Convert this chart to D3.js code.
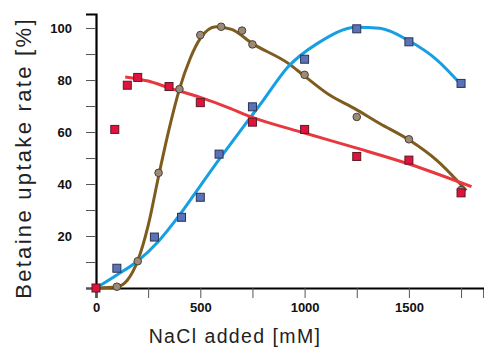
<!DOCTYPE html>
<html>
<head>
<meta charset="utf-8">
<script src="https://cdn.jsdelivr.net/npm/d3@7"></script>
<style>
  body { margin: 0; background: #fff; }
  svg { display: block; }
</style>
</head>
<body>
<div id="chart"></div>
<script>
// Measured points (NaCl mM, uptake %)
const brownPoints = [[100, 0.5], [200, 10.3], [300, 44.3], [400, 76.5], [500, 97.3], [600, 100.5],
    [700, 99], [750, 93.7], [1000, 82], [1250, 65.8], [1500, 57.2], [1750, 37.7]];
const bluePoints = [[100, 7.6], [280, 19.6], [410, 27.2], [500, 34.9], [590, 51.5], [750, 69.7],
    [1000, 88], [1250, 99.7], [1500, 94.7], [1750, 78.7]];
const redPoints = [[0, 0], [90, 61], [150, 78], [200, 81], [350, 77.5], [500, 71.3], [750, 63.8],
    [1000, 61], [1250, 50.6], [1500, 49.2], [1750, 36.6]];

// Fitted curves
const brownFit = [[0, 0], [100, 0.5], [150, 3], [200, 10.5], [250, 24], [300, 43], [350, 61], [400, 76.5],
    [450, 88], [500, 96], [575, 100.5], [650, 99.5], [750, 94], [920, 86.5], [1000, 81.5], [1120, 74.2],
    [1240, 69], [1360, 63.3], [1500, 57], [1635, 49], [1775, 37.5]];
const blueFit = [[0, 0], [100, 5], [200, 10.4], [300, 18], [400, 28], [500, 39.3], [600, 50.5],
    [700, 61.3], [800, 72], [920, 85], [1060, 94], [1250, 100.3], [1360, 99.9], [1500, 95.1],
    [1635, 87.7], [1745, 78.7]];
const redFit = [[140, 81.2], [250, 79.6], [350, 77], [500, 73.3], [640, 69.2], [740, 65.9],
    [1000, 59.6], [1250, 53.8], [1500, 47.7], [1800, 39]];

const xMajor = [0, 500, 1000, 1500];
const xMinor = [250, 750, 1250, 1750];
const yMajor = [20, 40, 60, 80, 100];
const yMinor = [0, 10, 30, 50, 70, 90];

const width = 484;
const height = 347;

const svg = d3.select('#chart').append('svg')
    .attr('width', width)
    .attr('height', height);

const x = d3.scaleLinear().domain([0, 1860]).range([96, 484]);
const y = d3.scaleLinear().domain([0, 105.4]).range([288, 14]);

// Axes
const xAxis = svg.append('g')
    .attr('transform', `translate(0, ${y(0)})`)
    .call(d3.axisBottom(x).tickValues(xMajor.concat(xMinor)).tickSize(10).tickPadding(5)
        .tickFormat(d => xMajor.includes(d) ? d : ''));

const yAxis = svg.append('g')
    .attr('transform', `translate(${x(0)}, 0)`)
    .call(d3.axisLeft(y).tickValues(yMajor.concat(yMinor)).tickSize(10).tickPadding(14)
        .tickFormat(d => yMajor.includes(d) ? d : ''));

[xAxis, yAxis].forEach(g => {
    g.select('.domain').attr('stroke', '#000').attr('stroke-width', 2.2);
    g.selectAll('.tick line').attr('stroke', '#555').attr('stroke-width', 1);
    g.selectAll('.tick text')
        .style('font-family', 'Liberation Sans, Arial, sans-serif')
        .style('font-size', '13px')
        .style('font-weight', 'bold')
        .attr('fill', '#111');
});

// Axis titles
svg.append('text')
    .attr('x', 235)
    .attr('y', 343)
    .style('text-anchor', 'middle')
    .style('font-family', 'Liberation Sans, Arial, sans-serif')
    .style('font-size', '19.5px')
    .style('letter-spacing', '1.4px')
    .attr('fill', '#222')
    .text('NaCl added [mM]');

svg.append('text')
    .attr('transform', 'rotate(-90)')
    .attr('x', -158)
    .attr('y', 31)
    .style('text-anchor', 'middle')
    .style('font-family', 'Liberation Sans, Arial, sans-serif')
    .style('font-size', '22px')
    .style('letter-spacing', '2.3px')
    .attr('fill', '#222')
    .text('Betaine uptake rate [%]');

// Fitted lines
const line = d3.line()
    .x(d => x(d[0]))
    .y(d => y(d[1]))
    .curve(d3.curveMonotoneX);

svg.append('path').datum(brownFit)
    .attr('d', line).attr('fill', 'none')
    .attr('stroke', '#7d5c1e').attr('stroke-width', 3);

svg.append('path').datum(blueFit)
    .attr('d', line).attr('fill', 'none')
    .attr('stroke', '#169fe3').attr('stroke-width', 3);

svg.append('path').datum(redFit)
    .attr('d', line).attr('fill', 'none')
    .attr('stroke', '#e8383f').attr('stroke-width', 3);

// Markers
svg.selectAll('circle.brown')
    .data(brownPoints)
    .enter().append('circle')
    .attr('class', 'brown')
    .attr('cx', d => x(d[0]))
    .attr('cy', d => y(d[1]))
    .attr('r', 3.8)
    .attr('fill', '#9a8a76')
    .attr('stroke', '#4a4038')
    .attr('stroke-width', 1);

svg.selectAll('rect.blue')
    .data(bluePoints)
    .enter().append('rect')
    .attr('class', 'blue')
    .attr('x', d => x(d[0]) - 4)
    .attr('y', d => y(d[1]) - 4)
    .attr('width', 8)
    .attr('height', 8)
    .attr('fill', '#5a72b8')
    .attr('stroke', '#2a3350')
    .attr('stroke-width', 1);

svg.selectAll('rect.red')
    .data(redPoints)
    .enter().append('rect')
    .attr('class', 'red')
    .attr('x', d => x(d[0]) - 4)
    .attr('y', d => y(d[1]) - 4)
    .attr('width', 8)
    .attr('height', 8)
    .attr('fill', '#e0133e')
    .attr('stroke', '#5a1a24')
    .attr('stroke-width', 1);
</script>
</body>
</html>
